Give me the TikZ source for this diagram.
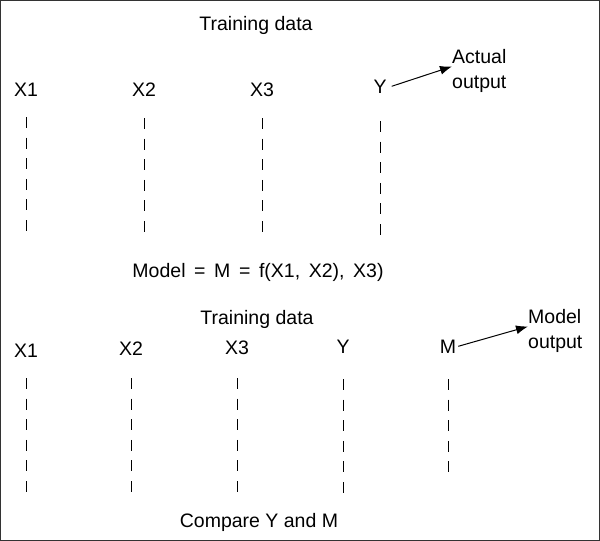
\documentclass[tikz,border=0pt]{standalone}
\usepackage{fontspec}
\setmainfont{Liberation Sans}
\usetikzlibrary{arrows.meta}
\newcommand\widespaces{\spaceskip=8.6pt\relax}
\tikzset{
    lbl/.style={anchor=base, inner sep=2pt, font=\fontsize{19.5}{25}\selectfont},
    note/.style={anchor=base west, align=left, inner sep=0pt, font=\fontsize{19.5}{25}\selectfont},
    col/.style={line width=0.9pt, dash pattern=on 11pt off 9.6pt},
    pointer/.style={line width=1pt, -{Latex[length=12pt,width=9pt]}},
}
\begin{document}
\begin{tikzpicture}[x=1pt,y=-1pt]
        \useasboundingbox (0,0) rectangle (600,541);
        \draw[line width=0.8pt, black!80] (0.5,0.5) rectangle (599.5,540.5);
        % first table
        \node[lbl] (train1) at (256,30) {Training data};
        \node[lbl] (X1t) at (26,96) {X1};
        \node[lbl] (X2t) at (144,96) {X2};
        \node[lbl] (X3t) at (262,96) {X3};
        \node[lbl] (Yt) at (380,93) {Y};
        \node[note] (actual) at (452,88) {Actual\\output};
        \coordinate (X1ta) at (26,117);
        \coordinate (X1tb) at (26,231);
        \coordinate (X2ta) at (144,118);
        \coordinate (X2tb) at (144,232);
        \coordinate (X3ta) at (262,118);
        \coordinate (X3tb) at (262,232);
        \coordinate (Yta) at (380,121);
        \coordinate (Ytb) at (380,235);
        \draw[col] (X1ta) -- (X1tb);
        \draw[col] (X2ta) -- (X2tb);
        \draw[col] (X3ta) -- (X3tb);
        \draw[col] (Yta) -- (Ytb);
        \draw[pointer] ([xshift=3pt]Yt.east) -- ([yshift=4pt]actual.west);
        \node[lbl, font=\fontsize{19.5}{25}\selectfont\widespaces] (model) at (258,277) {Model = M = f(X1, X2), X3)};
        % second table
        \node[lbl] (train2) at (257,324) {Training data};
        \node[lbl] (X1b) at (26,357) {X1};
        \node[lbl] (X2b) at (131,355) {X2};
        \node[lbl] (X3b) at (237,354) {X3};
        \node[lbl] (Yb) at (343,353) {Y};
        \node[lbl] (Mb) at (448,353) {M};
        \node[note] (mout) at (528,348) {Model\\output};
        \coordinate (X1ba) at (26,378);
        \coordinate (X1bb) at (26,492);
        \coordinate (X2ba) at (131,378);
        \coordinate (X2bb) at (131,492);
        \coordinate (X3ba) at (237,378);
        \coordinate (X3bb) at (237,492);
        \coordinate (Yba) at (343,379);
        \coordinate (Ybb) at (343,493);
        \coordinate (Mba) at (448,379);
        \coordinate (Mbb) at (448,473);
        \draw[col] (X1ba) -- (X1bb);
        \draw[col] (X2ba) -- (X2bb);
        \draw[col] (X3ba) -- (X3bb);
        \draw[col] (Yba) -- (Ybb);
        \draw[col] (Mba) -- (Mbb);
        \draw[pointer] (Mb.east) -- ([yshift=4pt]mout.west);
        \node[lbl] (cmp) at (259,527) {Compare Y and M};
    \end{tikzpicture}
\end{document}
